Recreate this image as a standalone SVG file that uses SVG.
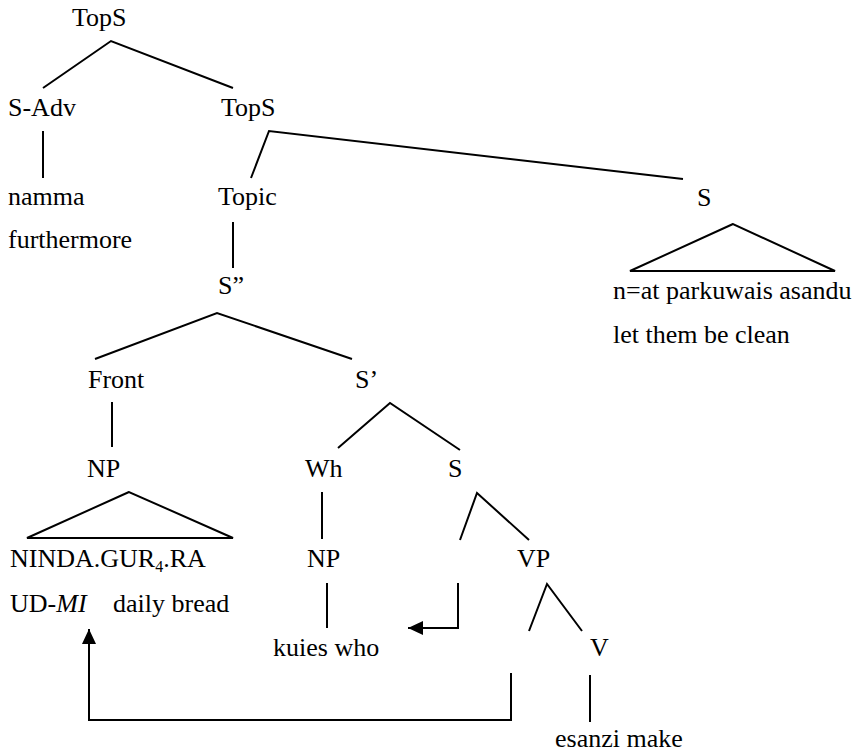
<svg xmlns="http://www.w3.org/2000/svg" width="855" height="755" viewBox="0 0 855 755">
<defs>
<style>
text{font-family:'Liberation Serif','Times New Roman',serif;font-size:26px;fill:#000}
.e{fill:none;stroke:#000;stroke-width:2;stroke-linejoin:miter}
</style>
<marker id="ah" markerUnits="userSpaceOnUse" markerWidth="16" markerHeight="16" viewBox="0 0 16 16" refX="15" refY="8" orient="auto">
<path d="M0,1 L15,8 L0,15 Z" fill="#000"/>
</marker>
</defs>
<rect width="855" height="755" fill="#fff"/>
<g id="nodes">
<g id="n-tops1"><text x="72" y="26">TopS</text></g>
<g id="n-sadv"><text x="8" y="116">S-Adv</text></g>
<g id="n-tops2"><text x="221" y="116">TopS</text></g>
<g id="n-namma"><text x="8" y="205">namma</text><text x="8" y="248">furthermore</text></g>
<g id="n-topic"><text x="218" y="205">Topic</text></g>
<g id="n-s-right"><text x="697" y="206">S</text></g>
<g id="n-s-right-text"><text x="613" y="299">n=at parkuwais asandu</text><text x="613" y="343">let them be clean</text></g>
<g id="n-s2"><text x="218" y="294">S”</text></g>
<g id="n-front"><text x="88" y="388">Front</text></g>
<g id="n-s1"><text x="355" y="388">S’</text></g>
<g id="n-np1"><text x="87" y="477">NP</text></g>
<g id="n-wh"><text x="305" y="477">Wh</text></g>
<g id="n-s3"><text x="448" y="477">S</text></g>
<g id="n-ninda"><text x="10" y="567">NINDA.GUR<tspan font-size="16" dy="5">4</tspan><tspan dy="-5">.RA</tspan></text><text x="10" y="612">UD-<tspan font-style="italic">MI</tspan></text><text x="113" y="612">daily bread</text></g>
<g id="n-np2"><text x="307" y="567">NP</text></g>
<g id="n-vp"><text x="517" y="567">VP</text></g>
<g id="n-kuies"><text x="273" y="656">kuies who</text></g>
<g id="n-v"><text x="590" y="656">V</text></g>
<g id="n-esanzi"><text x="555" y="747">esanzi make</text></g>
</g>
<g id="connectors">
<path class="e" d="M43,88 L111,41 L233,88"/>
<path class="e" d="M43,131 L43,178"/>
<path class="e" d="M251,178 L269,131 L683,179"/>
<path class="e" d="M233,222 L233,268"/>
<path class="e" d="M733,224 L630,271 L835,271 Z"/>
<path class="e" d="M95,359 L217,313 L352,359"/>
<path class="e" d="M112,402 L112,447"/>
<path class="e" d="M338,448 L390,403 L460,450"/>
<path class="e" d="M129,492 L27,538 L233,538 Z"/>
<path class="e" d="M322,492 L322,539"/>
<path class="e" d="M460,540 L477,493 L529,540"/>
<path class="e" d="M327,583 L327,628"/>
<path class="e" d="M458,583 L458,628 L408,628" marker-end="url(#ah)"/>
<path class="e" d="M529,631 L547,584 L582,631"/>
<path class="e" d="M590,675 L590,722"/>
<path class="e" d="M511,673 L511,720 L89,720 L89,629" marker-end="url(#ah)"/>
</g>
</svg>
